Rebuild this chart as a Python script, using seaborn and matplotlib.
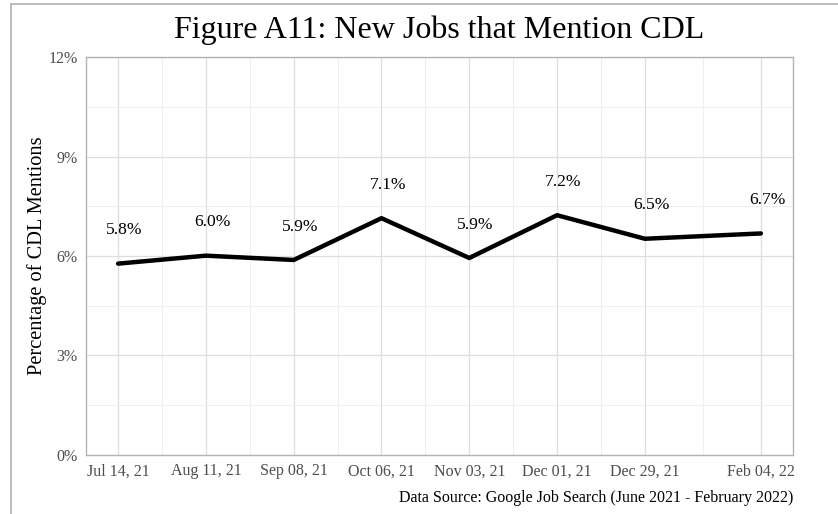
import pandas as pd
import numpy as np
import matplotlib
matplotlib.use('Agg')
import matplotlib.pyplot as plt
import matplotlib.dates as mdates
import seaborn as sns

# values
dates = ['2021-07-14', '2021-08-11', '2021-09-08', '2021-10-06',
         '2021-11-03', '2021-12-01', '2021-12-29', '2022-02-04']
cdl_pct = [5.77, 6.01, 5.88, 7.14, 5.94, 7.23, 6.52, 6.68]
y_ticks = [0, 3, 6, 9, 12]

df = pd.DataFrame({'Date': pd.to_datetime(dates), 'Pct': cdl_pct})

sns.set_theme(style='whitegrid')
plt.rcParams['font.family'] = ['Liberation Serif', 'DejaVu Serif']

fig = plt.figure(figsize=(8.38, 5.14), dpi=100)
ax = fig.add_axes([0.1026, 0.1148, 0.8437, 0.7743])

sns.lineplot(data=df, x='Date', y='Pct', color='black', linewidth=3.2, ax=ax)

# labels above each point
for d, v in zip(df['Date'], df['Pct']):
    ax.annotate(f'{v:.1f}%', (d, v), xytext=(4.5, 24), textcoords='offset points',
                ha='center', va='center', fontsize=12.6, color='black')

# x range like ggplot (5% expansion)
span = df['Date'].max() - df['Date'].min()
ax.set_xlim(df['Date'].min() - span * 0.05, df['Date'].max() + span * 0.05)
ax.set_ylim(0, 12)

ax.set_xticks(df['Date'])
ax.xaxis.set_major_formatter(mdates.DateFormatter('%b %d, %y'))
mids = df['Date'][:-1].values + (df['Date'][1:].values - df['Date'][:-1].values) / 2
ax.set_xticks(mids, minor=True)
ax.set_yticks(y_ticks)
ax.set_yticklabels([f'{t}%' for t in y_ticks])
ax.set_yticks([1.5, 4.5, 7.5, 10.5], minor=True)

ax.grid(which='major', color='#dedede', linewidth=0.9)
ax.grid(which='minor', color='#ececec', linewidth=0.6)
ax.set_axisbelow(True)
for s in ax.spines.values():
    s.set_visible(True)
    s.set_color('#b3b3b3')
    s.set_linewidth(1.0)
ax.tick_params(axis='both', which='major', length=3.6, width=0.8, color='#b3b3b3',
               labelsize=11.5, labelcolor='#4d4d4d', pad=2.5)
ax.tick_params(axis='both', which='minor', length=0)

ax.set_xlabel('')
ax.set_ylabel('Percentage of CDL Mentions', fontsize=14.7, color='black', labelpad=1)
ax.set_title('Figure A11: New Jobs that Mention CDL', fontsize=23, pad=14, color='black')

fig.text(0.9463, 0.032, 'Data Source: Google Job Search (June 2021 - February 2022)',
         ha='right', va='center', fontsize=11.5, color='black')

# outer frame (cropped)
fig.add_artist(plt.Line2D([11 / 838, 11 / 838], [0, 1 - 4 / 514], color='#b0b0b0', linewidth=1.2))
fig.add_artist(plt.Line2D([11 / 838, 1], [1 - 4 / 514, 1 - 4 / 514], color='#b0b0b0', linewidth=1.2))

fig.savefig('out.png', dpi=100)
